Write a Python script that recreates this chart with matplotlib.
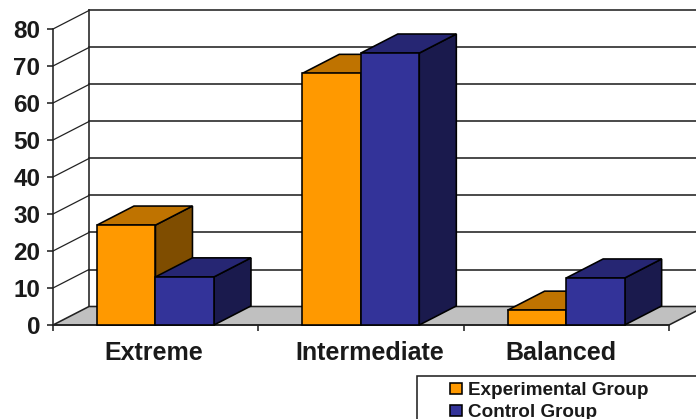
import matplotlib
matplotlib.use('Agg')
import matplotlib.pyplot as plt
from matplotlib.patches import Polygon, Patch, Rectangle

categories = ['Extreme', 'Intermediate', 'Balanced']
experimental = [27, 68, 4]
control = [13, 73.5, 12.7]
y_ticks = [0, 10, 20, 30, 40, 50, 60, 70, 80]
series_names = ['Experimental Group', 'Control Group']

ORANGE = ('#FF9900', '#BF7300', '#7F4D00')  # front, top, side
BLUE = ('#333399', '#262673', '#1A1A4D')

W, H = 696, 419
DEPTH_X = 36 / 205.3   # depth of the 3d box, in category units
DEPTH_Y = 5.0          # same, in value units
BOX_DX = 37 / 205.3
BOX_DY = 5.15
BAR_W = 0.285
BAR_START = 0.214
LW = 1.15

plt.rcParams['font.family'] = ['Liberation Sans', 'DejaVu Sans']
plt.rcParams['font.weight'] = 'bold'


def draw_box(ax, x0, value, colors, z):
    x1 = x0 + BAR_W
    dx, dy = BOX_DX, BOX_DY
    side = [(x1, 0), (x1 + dx, dy), (x1 + dx, value + dy), (x1, value)]
    top = [(x0, value), (x0 + dx, value + dy), (x1 + dx, value + dy), (x1, value)]
    front = [(x0, 0), (x0, value), (x1, value), (x1, 0)]
    for pts, col in ((side, colors[2]), (top, colors[1]), (front, colors[0])):
        ax.add_patch(Polygon(pts, closed=True, facecolor=col, edgecolor='black',
                             linewidth=LW, zorder=z, clip_on=False))


fig = plt.figure(figsize=(W / 100, H / 100), dpi=100)
ax = fig.add_axes([53 / W, 1 - 325 / H, 616 / W, 296 / H])
ax.set_xlim(0, 3)
ax.set_ylim(0, 80)
ax.patch.set_alpha(0)

for s in ('top', 'right'):
    ax.spines[s].set_visible(False)
for s in ('left', 'bottom'):
    ax.spines[s].set_linewidth(LW)
    ax.spines[s].set_color('#222222')

# back wall and slanted grid lines
for v in y_ticks:
    if v > 0:
        ax.plot([0, DEPTH_X], [v, v + DEPTH_Y], color='#222222', lw=0.9, clip_on=False, zorder=1)
    ax.plot([DEPTH_X, 3 + DEPTH_X], [v + DEPTH_Y, v + DEPTH_Y], color='#222222', lw=LW,
            clip_on=False, zorder=1)
ax.plot([DEPTH_X, DEPTH_X], [DEPTH_Y, 80 + DEPTH_Y], color='#222222', lw=LW, clip_on=False, zorder=1)

floor = [(0, 0), (DEPTH_X, DEPTH_Y), (3 + DEPTH_X, DEPTH_Y), (3, 0)]
ax.add_patch(Polygon(floor, closed=True, facecolor='#C0C0C0', edgecolor='#222222',
                     linewidth=LW, zorder=2, clip_on=False))

for i in range(len(categories)):
    draw_box(ax, i + BAR_START, experimental[i], ORANGE, 3 + i * 2)
    draw_box(ax, i + BAR_START + BAR_W, control[i], BLUE, 4 + i * 2)

ax.set_yticks(y_ticks)
ax.set_xticks(range(len(categories) + 1))
ax.set_xticklabels([])
ax.tick_params(axis='y', length=4, width=LW, pad=5, labelsize=17.5, color='#222222', labelcolor='#1a1a1a')
ax.tick_params(axis='x', length=4, width=LW, color='#222222')

# category names sit a little off the group centres
label_x = [0.49, 1.544, 2.472]
for x, name in zip(label_x, categories):
    ax.text(x, -7.7, name, ha='center', va='center', fontsize=18, color='#1a1a1a', clip_on=False)

# legend frame runs off the right and bottom of the figure
fig.add_artist(Rectangle((417 / W, -0.05), 0.5, 1 - 376.5 / H + 0.05, transform=fig.transFigure,
                         facecolor='white', edgecolor='#222222', linewidth=LW, zorder=-1))
handles = [Patch(facecolor=ORANGE[0], edgecolor='black', linewidth=LW),
           Patch(facecolor=BLUE[0], edgecolor='black', linewidth=LW)]
leg = ax.legend(handles, series_names, loc='upper left', bbox_to_anchor=(450 / W, 1 - 382 / H),
                bbox_transform=fig.transFigure, frameon=False, borderpad=0, borderaxespad=0,
                fontsize=13.6, handlelength=0.63, handleheight=0.5, handletextpad=0.32,
                labelspacing=0.28, labelcolor='#1a1a1a')
leg.set_zorder(20)

fig.savefig('out.png', dpi=100)
